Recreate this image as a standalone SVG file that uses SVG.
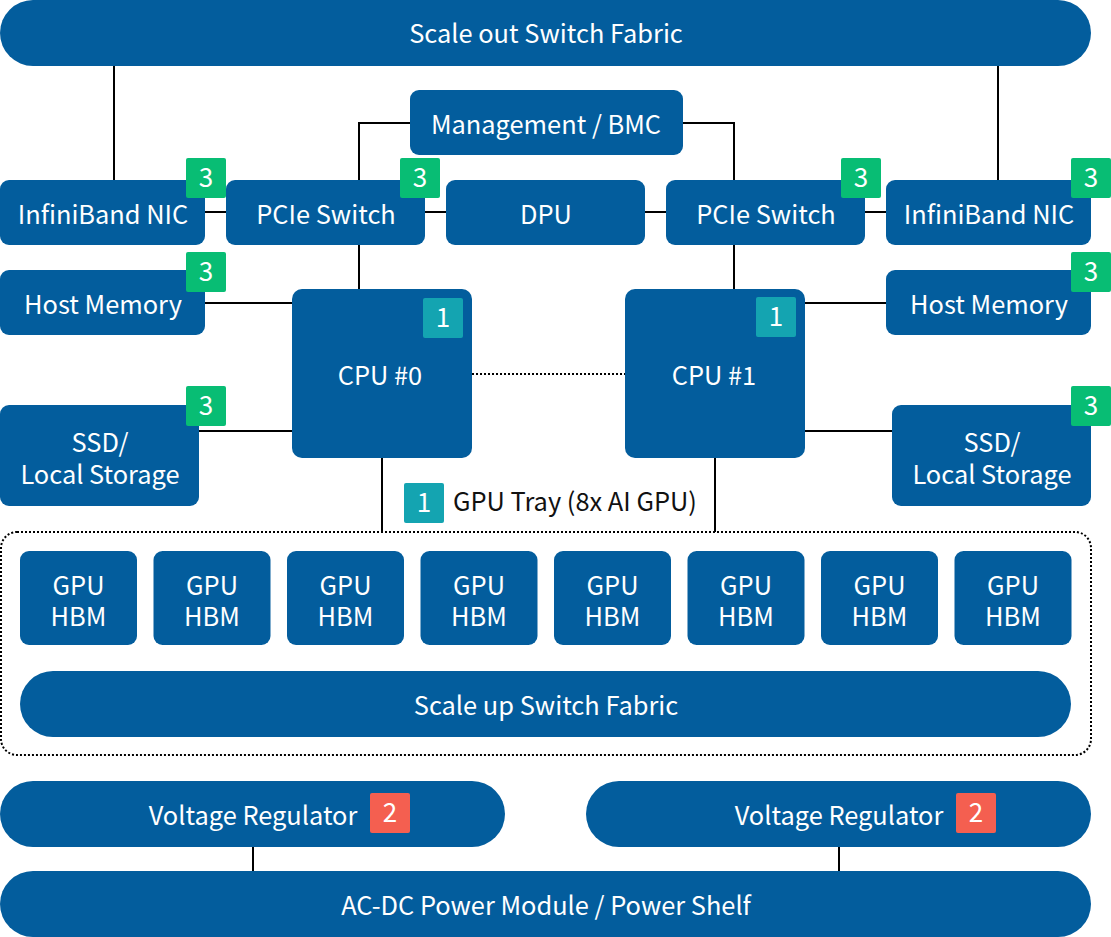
<svg xmlns="http://www.w3.org/2000/svg" width="1111" height="937" viewBox="0 0 1111 937">
<style>
.n{fill:#035d9d}
.t{font-family:"Noto Sans CJK KR","Noto Sans",sans-serif;font-size:25.4px;fill:#fff;text-anchor:middle}
.bt{font-family:"Noto Sans CJK KR","Noto Sans",sans-serif;font-size:26px;fill:#fff;text-anchor:middle}
.g{fill:#08bd74}
.c{fill:#14a4b1}
.r{fill:#f45f50}
.l{stroke:#000;stroke-width:2;fill:none}
.d{stroke:#000;stroke-width:2;fill:none;stroke-dasharray:2 2}
</style>
<rect width="1111" height="937" fill="#fff"/>
<g id="connectors">
<path class="l" d="M114 66V180M998 66V180"/>
<path class="l" d="M410 123H359V180M683 123H734V180"/>
<path class="l" d="M205 212H226M425 212H446M645 212H666M865 212H886"/>
<path class="l" d="M359 245V289M734 245V289"/>
<path class="l" d="M205 303H292M805 303H886"/>
<path class="l" d="M199 431H292M805 431H892"/>
<path class="d" d="M472 374H625"/>
<path class="l" d="M382 458V532M715 458V532"/>
<path class="l" d="M253 847V871M839 847V871"/>
</g>
<g id="scale-out"><rect class="n" x="0" y="0" width="1091" height="66" rx="33"/><text class="t" x="546" y="43">Scale out Switch Fabric</text></g>
<g id="bmc"><rect class="n" x="410" y="90" width="273" height="65" rx="9"/><text class="t" x="546" y="134">Management / BMC</text></g>
<g id="ib-nic-0"><rect class="n" x="0" y="180" width="205" height="65" rx="9"/><text class="t" x="103" y="224">InfiniBand NIC</text><rect class="g" x="186" y="158" width="40" height="40" rx="2"/><text class="bt" x="206" y="187">3</text></g>
<g id="pcie-0"><rect class="n" x="226" y="180" width="199" height="65" rx="9"/><text class="t" x="326" y="224">PCIe Switch</text><rect class="g" x="400" y="158" width="40" height="40" rx="2"/><text class="bt" x="420" y="187">3</text></g>
<g id="dpu"><rect class="n" x="446" y="180" width="199" height="65" rx="9"/><text class="t" x="546" y="224">DPU</text></g>
<g id="pcie-1"><rect class="n" x="666" y="180" width="199" height="65" rx="9"/><text class="t" x="766" y="224">PCIe Switch</text><rect class="g" x="841" y="158" width="40" height="40" rx="2"/><text class="bt" x="861" y="187">3</text></g>
<g id="ib-nic-1"><rect class="n" x="886" y="180" width="205" height="65" rx="9"/><text class="t" x="989" y="224">InfiniBand NIC</text><rect class="g" x="1071" y="158" width="40" height="40" rx="2"/><text class="bt" x="1091" y="187">3</text></g>
<g id="host-mem-0"><rect class="n" x="0" y="270" width="205" height="65" rx="9"/><text class="t" x="103" y="314">Host Memory</text><rect class="g" x="186" y="252" width="40" height="40" rx="2"/><text class="bt" x="206" y="281">3</text></g>
<g id="host-mem-1"><rect class="n" x="886" y="270" width="205" height="65" rx="9"/><text class="t" x="989" y="314">Host Memory</text><rect class="g" x="1071" y="252" width="40" height="40" rx="2"/><text class="bt" x="1091" y="281">3</text></g>
<g id="cpu-0"><rect class="n" x="292" y="289" width="180" height="169" rx="10"/><text class="t" x="380" y="385">CPU #0</text><rect class="c" x="423" y="298" width="40" height="40" rx="2"/><text class="bt" x="443" y="327">1</text></g>
<g id="cpu-1"><rect class="n" x="625" y="289" width="180" height="169" rx="10"/><text class="t" x="714" y="385">CPU #1</text><rect class="c" x="756" y="297" width="40" height="40" rx="2"/><text class="bt" x="776" y="326">1</text></g>
<g id="ssd-0"><rect class="n" x="0" y="405" width="199" height="101" rx="9"/><text class="t" x="100" y="452">SSD/</text><text class="t" x="100" y="484">Local Storage</text><rect class="g" x="186" y="386" width="40" height="40" rx="2"/><text class="bt" x="206" y="415">3</text></g>
<g id="ssd-1"><rect class="n" x="892" y="405" width="199" height="101" rx="9"/><text class="t" x="992" y="452">SSD/</text><text class="t" x="992" y="484">Local Storage</text><rect class="g" x="1071" y="386" width="40" height="40" rx="2"/><text class="bt" x="1091" y="415">3</text></g>
<g id="gpu-tray">
<rect class="d" x="1" y="532" width="1090" height="223" rx="16" stroke-width="1.6"/>
<rect class="c" x="404" y="483" width="40" height="40" rx="2"/><text class="bt" x="424" y="512">1</text>
<text x="453" y="511" style="font-family:'Noto Sans CJK KR','Noto Sans',sans-serif;font-size:25.4px;fill:#111">GPU Tray (8x AI GPU)</text>
</g>
<g id="gpu-1"><rect class="n" x="20" y="551" width="117" height="94" rx="9"/><text class="t" x="78.5" y="595">GPU</text><text class="t" x="78.5" y="626">HBM</text></g>
<g id="gpu-2"><rect class="n" x="153.5" y="551" width="117" height="94" rx="9"/><text class="t" x="212" y="595">GPU</text><text class="t" x="212" y="626">HBM</text></g>
<g id="gpu-3"><rect class="n" x="287" y="551" width="117" height="94" rx="9"/><text class="t" x="345.5" y="595">GPU</text><text class="t" x="345.5" y="626">HBM</text></g>
<g id="gpu-4"><rect class="n" x="420.5" y="551" width="117" height="94" rx="9"/><text class="t" x="479" y="595">GPU</text><text class="t" x="479" y="626">HBM</text></g>
<g id="gpu-5"><rect class="n" x="554" y="551" width="117" height="94" rx="9"/><text class="t" x="612.5" y="595">GPU</text><text class="t" x="612.5" y="626">HBM</text></g>
<g id="gpu-6"><rect class="n" x="687.5" y="551" width="117" height="94" rx="9"/><text class="t" x="746" y="595">GPU</text><text class="t" x="746" y="626">HBM</text></g>
<g id="gpu-7"><rect class="n" x="821" y="551" width="117" height="94" rx="9"/><text class="t" x="879.5" y="595">GPU</text><text class="t" x="879.5" y="626">HBM</text></g>
<g id="gpu-8"><rect class="n" x="954.5" y="551" width="117" height="94" rx="9"/><text class="t" x="1013" y="595">GPU</text><text class="t" x="1013" y="626">HBM</text></g>
<g id="scale-up"><rect class="n" x="20" y="671" width="1051" height="66" rx="33"/><text class="t" x="546" y="715">Scale up Switch Fabric</text></g>
<g id="vr-0"><rect class="n" x="0" y="781" width="505" height="66" rx="33"/><text class="t" x="253" y="825">Voltage Regulator</text><rect class="r" x="370" y="793" width="40" height="40" rx="2"/><text class="bt" x="390" y="822">2</text></g>
<g id="vr-1"><rect class="n" x="586" y="781" width="505" height="66" rx="33"/><text class="t" x="839" y="825">Voltage Regulator</text><rect class="r" x="956" y="793" width="40" height="40" rx="2"/><text class="bt" x="976" y="822">2</text></g>
<g id="power"><rect class="n" x="0" y="871" width="1091" height="66" rx="33"/><text class="t" x="546" y="915">AC-DC Power Module / Power Shelf</text></g>
</svg>
